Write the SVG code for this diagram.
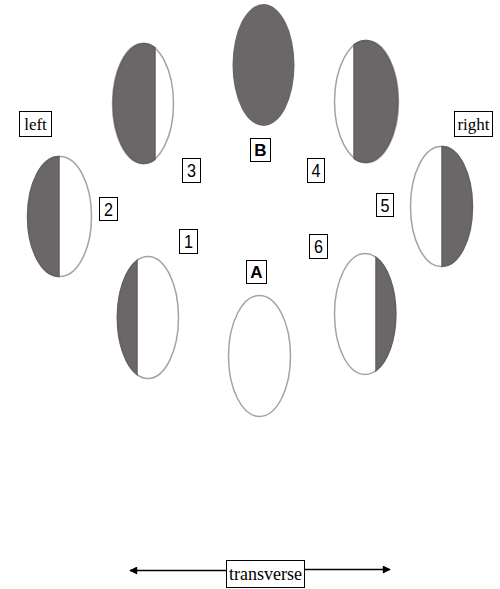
<svg xmlns="http://www.w3.org/2000/svg" width="500" height="589" viewBox="0 0 500 589">
<defs>
<style>
.ring{fill:#ffffff;stroke:#a3a3a3;stroke-width:1.5}
.dark{fill:#6b6667;stroke:#626061;stroke-width:1.5}
.solid{fill:#6b6667;stroke:none}
.box{fill:#ffffff;stroke:#000000;stroke-width:1}
.num{font-family:"Liberation Sans",Arial,sans-serif;font-size:19px;fill:#000;text-anchor:middle}
.letter{font-family:"Liberation Sans",Arial,sans-serif;font-size:17px;font-weight:bold;fill:#000;text-anchor:middle}
.word{font-family:"Liberation Serif","Times New Roman",serif;font-size:17px;fill:#000;text-anchor:middle}
.conn{stroke:#000;stroke-width:1.3;fill:none}
</style>
<marker id="ah" viewBox="0 0 10 10" refX="9" refY="5" markerWidth="9" markerHeight="8" markerUnits="userSpaceOnUse" orient="auto">
<path d="M0,0 L10,5 L0,10 Z" fill="#000"/>
</marker>
</defs>

<g id="ellipse-B">
<ellipse class="solid" cx="263.5" cy="65" rx="31" ry="61"/>
</g>
<g id="ellipse-3">
<ellipse class="ring" cx="143" cy="103.5" rx="30.5" ry="60"/>
<path class="dark" d="M155,47.7 A30.5,60 0 1 0 155,159.3 Z"/>
</g>
<g id="ellipse-4">
<ellipse class="ring" cx="366.5" cy="101.5" rx="32" ry="61"/>
<path class="dark" d="M354,44.7 A32,61 0 1 1 354,158.3 Z"/>
</g>
<g id="ellipse-2">
<ellipse class="ring" cx="60" cy="216.5" rx="31.5" ry="60"/>
<path class="dark" d="M59,156.5 A31.5,60 0 0 0 59,276.5 Z"/>
</g>
<g id="ellipse-5">
<ellipse class="ring" cx="441" cy="206.5" rx="30.5" ry="60"/>
<path class="dark" d="M442,146.5 A30.5,60 0 0 1 442,266.5 Z"/>
</g>
<g id="ellipse-1">
<ellipse class="ring" cx="148" cy="317.5" rx="30.5" ry="61"/>
<path class="dark" d="M137,260.5 A30.5,61 0 0 0 137,374.5 Z"/>
</g>
<g id="ellipse-A">
<ellipse class="ring" cx="259.5" cy="356" rx="31" ry="60.5"/>
</g>
<g id="ellipse-6">
<ellipse class="ring" cx="365" cy="314" rx="30.5" ry="60.5"/>
<path class="dark" d="M376,257.3 A30.5,60.5 0 0 1 376,370.7 Z"/>
</g>

<g id="label-left">
<rect class="box" x="19.5" y="111.5" width="32" height="25"/>
<text class="word" x="35.5" y="130">left</text>
</g>
<g id="label-right">
<rect class="box" x="454.5" y="111.5" width="38" height="25"/>
<text class="word" x="473.5" y="130">right</text>
</g>
<g id="label-B">
<rect class="box" x="250.5" y="138.5" width="20" height="23"/>
<text class="letter" x="260.5" y="156">B</text>
</g>
<g id="label-3">
<rect class="box" x="182.5" y="158.5" width="18" height="24"/>
<text class="num" x="191.5" y="177" textLength="9" lengthAdjust="spacingAndGlyphs">3</text>
</g>
<g id="label-4">
<rect class="box" x="307.5" y="158.5" width="17" height="24"/>
<text class="num" x="316" y="177" textLength="9" lengthAdjust="spacingAndGlyphs">4</text>
</g>
<g id="label-2">
<rect class="box" x="99.5" y="197.5" width="18" height="23"/>
<text class="num" x="108.5" y="215.5" textLength="9" lengthAdjust="spacingAndGlyphs">2</text>
</g>
<g id="label-5">
<rect class="box" x="376.5" y="193.5" width="17" height="23"/>
<text class="num" x="385" y="211.5" textLength="9" lengthAdjust="spacingAndGlyphs">5</text>
</g>
<g id="label-1">
<rect class="box" x="179.5" y="229.5" width="18" height="24"/>
<text class="num" x="188.5" y="248" textLength="9" lengthAdjust="spacingAndGlyphs">1</text>
</g>
<g id="label-6">
<rect class="box" x="309.5" y="234.5" width="18" height="24"/>
<text class="num" x="318.5" y="253" textLength="9" lengthAdjust="spacingAndGlyphs">6</text>
</g>
<g id="label-A">
<rect class="box" x="246.5" y="260.5" width="20" height="23"/>
<text class="letter" x="256.5" y="278">A</text>
</g>

<g id="connectors">
<line class="conn" x1="226" y1="570.5" x2="130" y2="570.5" marker-end="url(#ah)"/>
<line class="conn" x1="304" y1="569.5" x2="390" y2="569.5" marker-end="url(#ah)"/>
</g>
<g id="label-transverse">
<rect class="box" x="226.5" y="560.5" width="78" height="27"/>
<text class="word" x="265.5" y="580" style="font-size:18px">transverse</text>
</g>
</svg>
